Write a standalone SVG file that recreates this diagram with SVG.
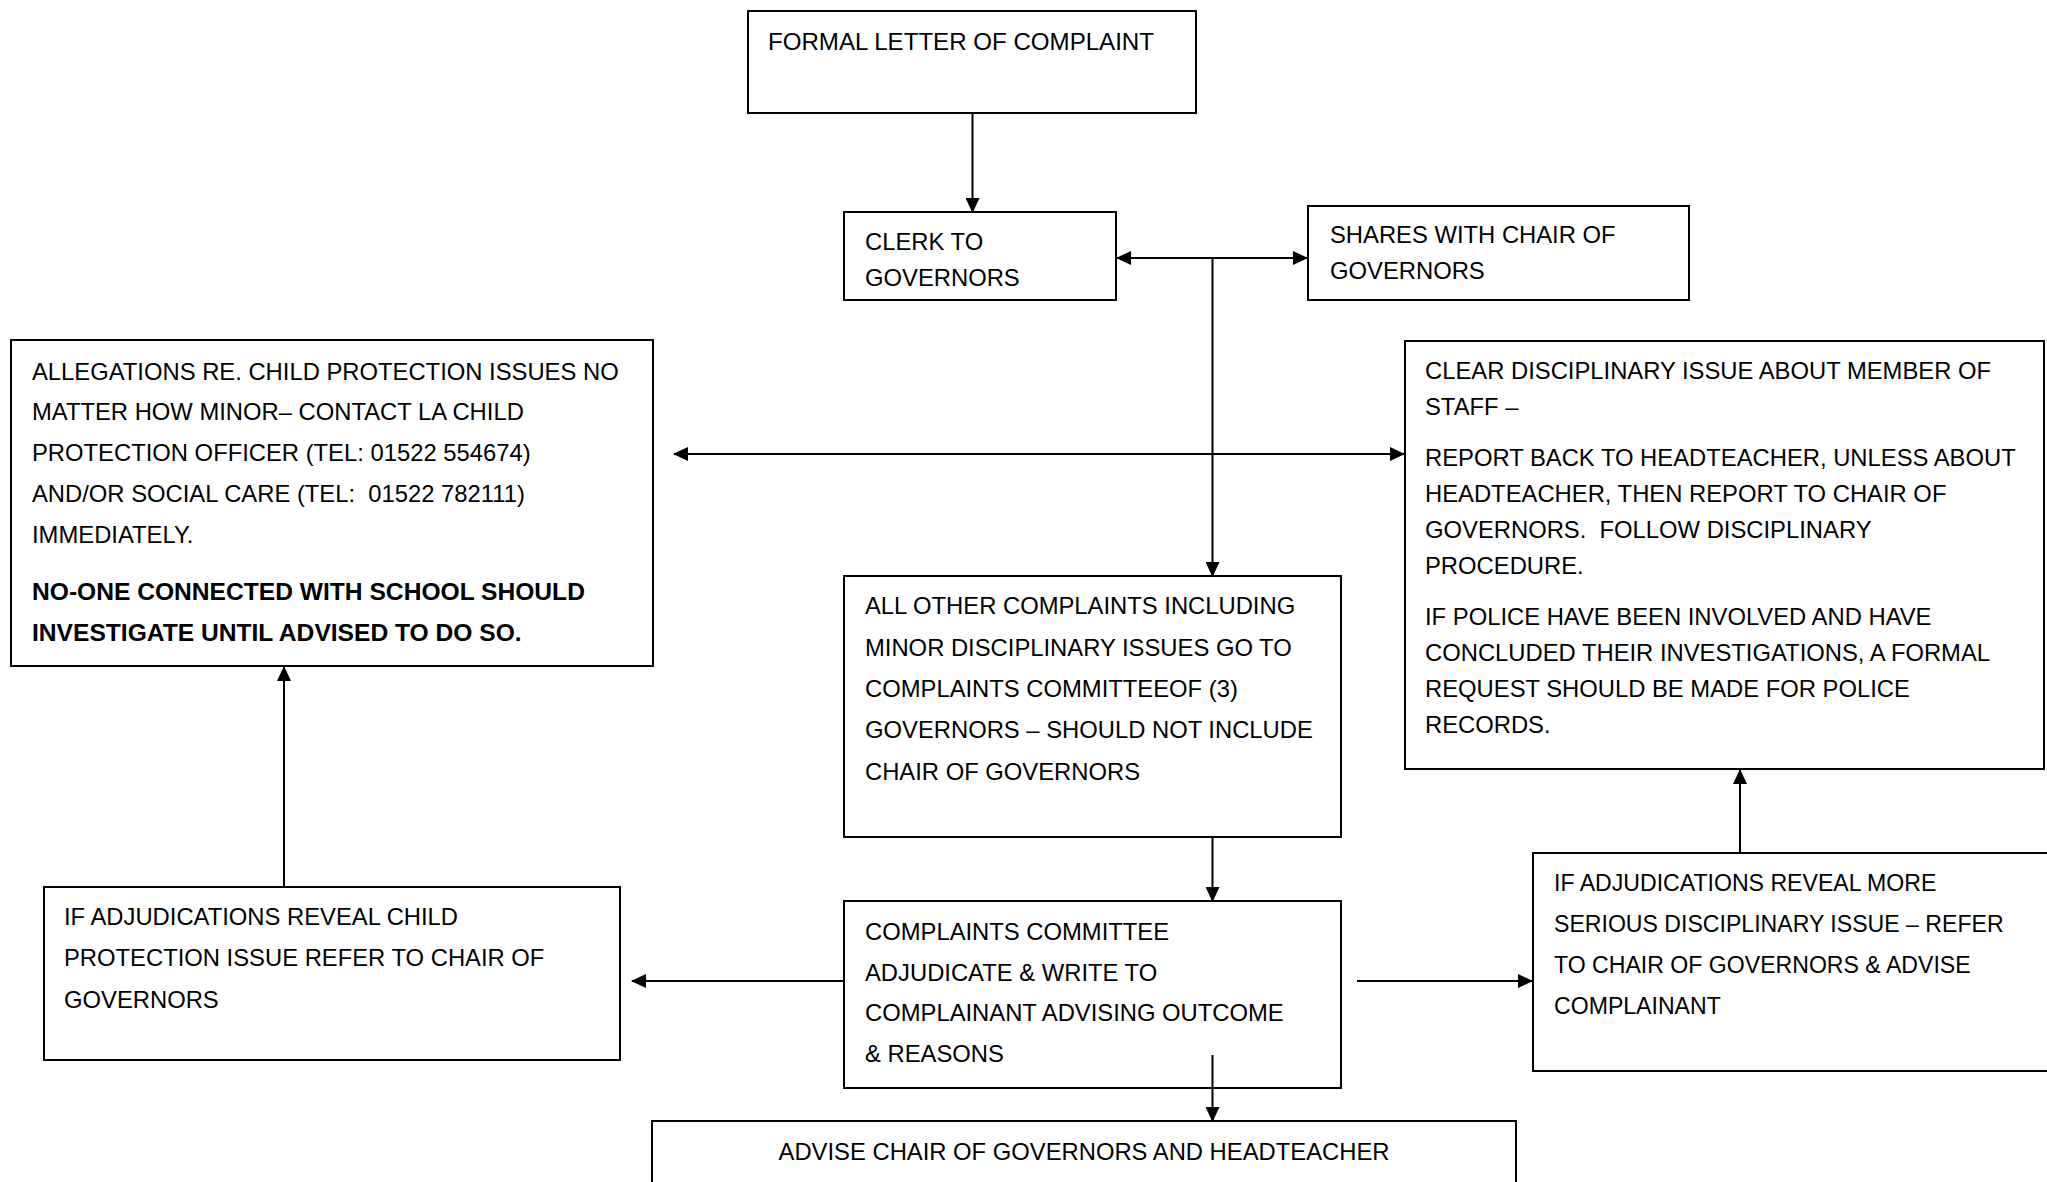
<svg xmlns="http://www.w3.org/2000/svg" width="2047" height="1182" viewBox="0 0 2047 1182">
<style>
.box{fill:#fff;stroke:#000;stroke-width:2}
.t{font-family:"Liberation Sans",Arial,sans-serif;font-size:23.8px;fill:#000;white-space:pre}
.b{font-weight:bold;font-size:24.6px}
.s{font-size:23.1px}
.c{text-anchor:middle}
.ln{fill:none;stroke:#000;stroke-width:2}
</style>
<defs>
<marker id="ah" viewBox="0 0 15 14" markerWidth="15" markerHeight="14" refX="14" refY="7" markerUnits="userSpaceOnUse" orient="auto-start-reverse">
<path d="M0,0 L15,7 L0,14 z" fill="#000"/>
</marker>
</defs>
<rect width="2047" height="1182" fill="#fff"/>

<g id="formal">
<rect class="box" x="748" y="11" width="448" height="102"/>
<text class="t" x="768" y="50" textLength="386" lengthAdjust="spacingAndGlyphs">FORMAL LETTER OF COMPLAINT</text>
</g>

<g id="clerk">
<rect class="box" x="844" y="212" width="272" height="88"/>
<text class="t" x="865" y="250">CLERK TO</text>
<text class="t" x="865" y="286">GOVERNORS</text>
</g>

<g id="shares">
<rect class="box" x="1308" y="206" width="381" height="94"/>
<text class="t" x="1330" y="243">SHARES WITH CHAIR OF</text>
<text class="t" x="1330" y="279">GOVERNORS</text>
</g>

<g id="allegations">
<rect class="box" x="11" y="340" width="642" height="326"/>
<text class="t" x="32" y="380">ALLEGATIONS RE. CHILD PROTECTION ISSUES NO</text>
<text class="t" x="32" y="420">MATTER HOW MINOR– CONTACT LA CHILD</text>
<text class="t" x="32" y="461">PROTECTION OFFICER (TEL: 01522 554674)</text>
<text class="t" x="32" y="502">AND/OR SOCIAL CARE (TEL:  01522 782111)</text>
<text class="t" x="32" y="543">IMMEDIATELY.</text>
<text class="t b" x="32" y="600">NO-ONE CONNECTED WITH SCHOOL SHOULD</text>
<text class="t b" x="32" y="641">INVESTIGATE UNTIL ADVISED TO DO SO.</text>
</g>

<g id="clear-disciplinary">
<rect class="box" x="1405" y="341" width="639" height="428"/>
<text class="t" x="1425" y="379">CLEAR DISCIPLINARY ISSUE ABOUT MEMBER OF</text>
<text class="t" x="1425" y="415">STAFF –</text>
<text class="t" x="1425" y="466">REPORT BACK TO HEADTEACHER, UNLESS ABOUT</text>
<text class="t" x="1425" y="502">HEADTEACHER, THEN REPORT TO CHAIR OF</text>
<text class="t" x="1425" y="538">GOVERNORS.  FOLLOW DISCIPLINARY</text>
<text class="t" x="1425" y="574">PROCEDURE.</text>
<text class="t" x="1425" y="625">IF POLICE HAVE BEEN INVOLVED AND HAVE</text>
<text class="t" x="1425" y="661">CONCLUDED THEIR INVESTIGATIONS, A FORMAL</text>
<text class="t" x="1425" y="697">REQUEST SHOULD BE MADE FOR POLICE</text>
<text class="t" x="1425" y="733">RECORDS.</text>
</g>

<g id="all-other">
<rect class="box" x="844" y="576" width="497" height="261"/>
<text class="t" x="865" y="614">ALL OTHER COMPLAINTS INCLUDING</text>
<text class="t" x="865" y="656">MINOR DISCIPLINARY ISSUES GO TO</text>
<text class="t" x="865" y="697">COMPLAINTS COMMITTEEOF (3)</text>
<text class="t" x="865" y="738">GOVERNORS – SHOULD NOT INCLUDE</text>
<text class="t" x="865" y="780">CHAIR OF GOVERNORS</text>
</g>

<g id="child-protection-issue">
<rect class="box" x="44" y="887" width="576" height="173"/>
<text class="t" x="64" y="925">IF ADJUDICATIONS REVEAL CHILD</text>
<text class="t" x="64" y="966">PROTECTION ISSUE REFER TO CHAIR OF</text>
<text class="t" x="64" y="1008">GOVERNORS</text>
</g>

<g id="committee">
<rect class="box" x="844" y="901" width="497" height="187"/>
<text class="t" x="865" y="940">COMPLAINTS COMMITTEE</text>
<text class="t" x="865" y="981">ADJUDICATE &amp; WRITE TO</text>
<text class="t" x="865" y="1021">COMPLAINANT ADVISING OUTCOME</text>
<text class="t" x="865" y="1062">&amp; REASONS</text>
</g>

<g id="serious-issue">
<rect class="box" x="1533" y="853" width="530" height="218"/>
<text class="t s" x="1554" y="891">IF ADJUDICATIONS REVEAL MORE</text>
<text class="t s" x="1554" y="932">SERIOUS DISCIPLINARY ISSUE – REFER</text>
<text class="t s" x="1554" y="973">TO CHAIR OF GOVERNORS &amp; ADVISE</text>
<text class="t s" x="1554" y="1014">COMPLAINANT</text>
</g>

<g id="advise">
<rect class="box" x="652" y="1121" width="864" height="90"/>
<text class="t c" x="1084" y="1160">ADVISE CHAIR OF GOVERNORS AND HEADTEACHER</text>
</g>

<g id="connectors">
<line class="ln" x1="972.5" y1="113" x2="972.5" y2="212" marker-end="url(#ah)"/>
<line class="ln" x1="1117" y1="258" x2="1307" y2="258" marker-start="url(#ah)" marker-end="url(#ah)"/>
<line class="ln" x1="1212.5" y1="258" x2="1212.5" y2="576" marker-end="url(#ah)"/>
<line class="ln" x1="674" y1="454" x2="1404" y2="454" marker-start="url(#ah)" marker-end="url(#ah)"/>
<line class="ln" x1="1212.5" y1="837" x2="1212.5" y2="901" marker-end="url(#ah)"/>
<line class="ln" x1="844" y1="981" x2="632" y2="981" marker-end="url(#ah)"/>
<line class="ln" x1="1357" y1="981" x2="1532" y2="981" marker-end="url(#ah)"/>
<line class="ln" x1="284" y1="887" x2="284" y2="667" marker-end="url(#ah)"/>
<line class="ln" x1="1740" y1="853" x2="1740" y2="770" marker-end="url(#ah)"/>
<line class="ln" x1="1212.5" y1="1055" x2="1212.5" y2="1121" marker-end="url(#ah)"/>
</g>
</svg>
